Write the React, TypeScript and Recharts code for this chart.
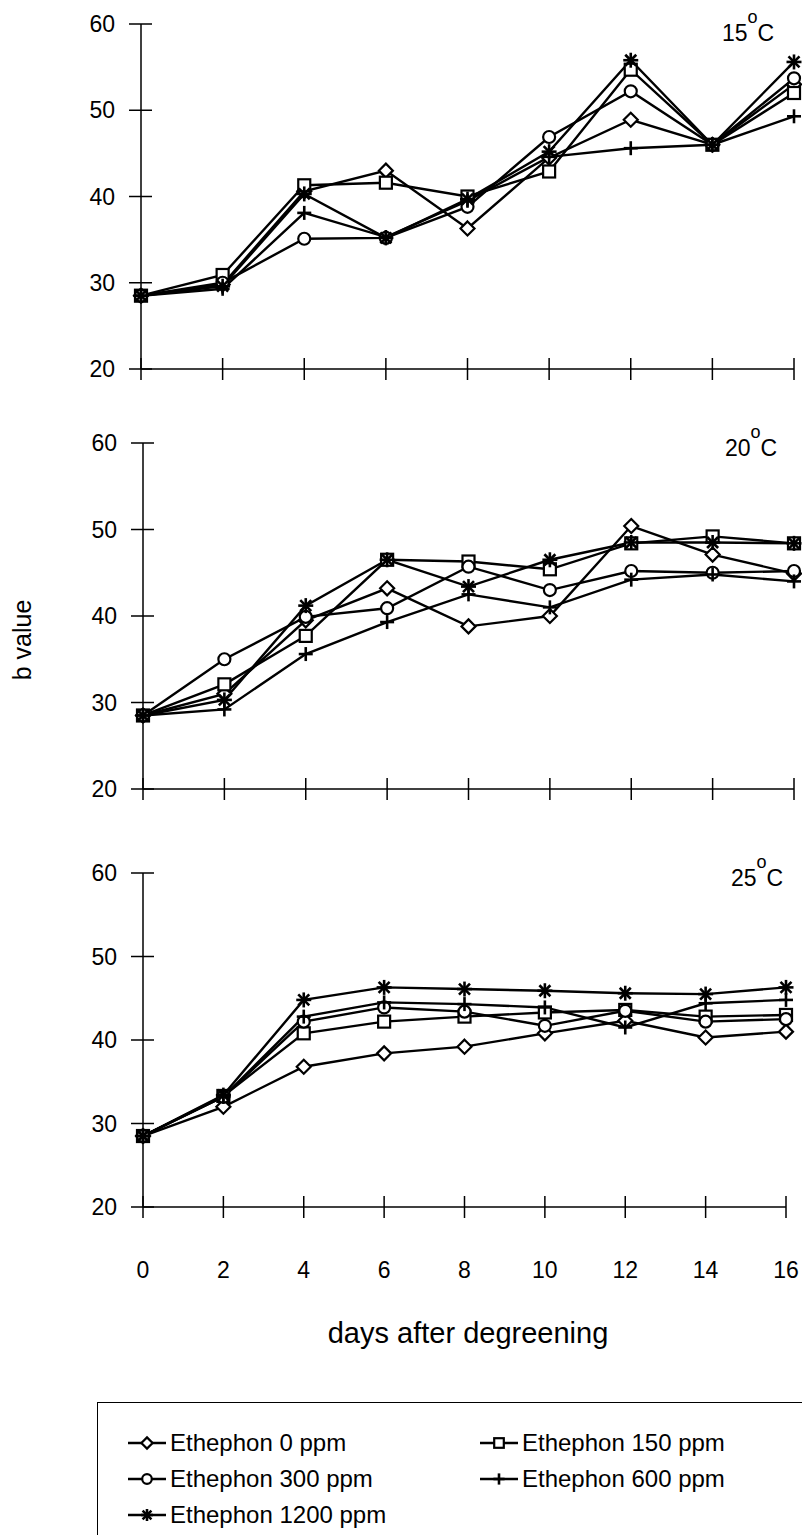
import React from 'react';
import { LineChart, Line, XAxis, YAxis } from 'recharts';

// days after degreening
const days = [0, 2, 4, 6, 8, 10, 12, 14, 16];
const yTicks = [20, 30, 40, 50, 60];

// 15 C
const e0_15 = [28.5, 29.8, 40.6, 43.0, 36.3, 44.5, 48.9, 46.0, 53.0];
const e150_15 = [28.5, 30.9, 41.3, 41.6, 40.0, 42.9, 54.7, 46.0, 52.0];
const e300_15 = [28.5, 30.0, 35.1, 35.2, 38.8, 46.9, 52.2, 46.0, 53.7];
const e600_15 = [28.5, 29.3, 38.1, 35.3, 39.5, 44.6, 45.6, 46.0, 49.3];
const e1200_15 = [28.5, 29.6, 40.3, 35.2, 39.7, 45.2, 55.8, 46.0, 55.6];

// 20 C
const e0_20 = [28.5, 31.0, 39.5, 43.2, 38.8, 40.0, 50.4, 47.1, 44.9];
const e150_20 = [28.5, 32.1, 37.7, 46.5, 46.3, 45.4, 48.4, 49.2, 48.4];
const e300_20 = [28.5, 35.0, 39.9, 40.9, 45.7, 43.0, 45.2, 45.0, 45.2];
const e600_20 = [28.5, 29.2, 35.6, 39.3, 42.5, 41.0, 44.2, 44.8, 44.0];
const e1200_20 = [28.5, 30.3, 41.2, 46.5, 43.4, 46.5, 48.5, 48.5, 48.4];

// 25 C
const e0_25 = [28.5, 32.0, 36.8, 38.4, 39.2, 40.8, 42.3, 40.3, 41.0];
const e150_25 = [28.5, 33.3, 40.8, 42.2, 42.8, 43.3, 43.6, 42.8, 43.0];
const e300_25 = [28.5, 33.2, 42.2, 43.9, 43.4, 41.7, 43.5, 42.2, 42.5];
const e600_25 = [28.5, 33.2, 42.8, 44.5, 44.3, 43.9, 41.5, 44.4, 44.8];
const e1200_25 = [28.5, 33.4, 44.8, 46.3, 46.1, 45.9, 45.6, 45.5, 46.3];

const seriesNames = ['Ethephon 0 ppm', 'Ethephon 150 ppm', 'Ethephon 300 ppm', 'Ethephon 600 ppm', 'Ethephon 1200 ppm'];
const seriesKeys = ['e0', 'e150', 'e300', 'e600', 'e1200'];
const markers = ['diamond', 'square', 'circle', 'plus', 'asterisk'];

const FONT = '"Liberation Sans", Arial, sans-serif';

const buildRows = (cols: number[][]) =>
    days.map((d, i) => {
        const row: any = { day: d };
        seriesKeys.forEach((k, j) => {
            row[k] = cols[j][i];
        });
        return row;
    });

const panels = [
    { label: '15', top: 0, mt: 24, left: 141, right: 794, plotH: 345, labelPos: { left: 722, top: 22 }, rows: buildRows([e0_15, e150_15, e300_15, e600_15, e1200_15]) },
    { label: '20', top: 400, mt: 43, left: 143, right: 794, plotH: 346, labelPos: { left: 725, top: 437 }, rows: buildRows([e0_20, e150_20, e300_20, e600_20, e1200_20]) },
    { label: '25', top: 830, mt: 43, left: 143, right: 786, plotH: 334, labelPos: { left: 731, top: 867 }, rows: buildRows([e0_25, e150_25, e300_25, e600_25, e1200_25]) },
];

// draw one marker shape centred at cx, cy
const Marker = ({ kind, cx, cy, k = 1 }: { kind: string; cx: number; cy: number; k?: number }) => {
    const sw = 2.2;
    if (kind === 'diamond') {
        const s = 7 * k;
        return <path d={`M${cx},${cy - s}L${cx + s},${cy}L${cx},${cy + s}L${cx - s},${cy}Z`} fill="#fff" stroke="#000" strokeWidth={sw} />;
    }
    if (kind === 'square') {
        const s = 6 * k;
        return <rect x={cx - s} y={cy - s} width={2 * s} height={2 * s} fill="#fff" stroke="#000" strokeWidth={sw} />;
    }
    if (kind === 'circle') {
        return <circle cx={cx} cy={cy} r={6 * k} fill="#fff" stroke="#000" strokeWidth={sw} />;
    }
    if (kind === 'plus') {
        const s = 7 * k;
        return (
            <g stroke="#000" strokeWidth={2.6}>
                <line x1={cx - s} x2={cx + s} y1={cy} y2={cy} />
                <line x1={cx} x2={cx} y1={cy - s} y2={cy + s} />
            </g>
        );
    }
    const s = 7.5 * k;
    const d = 5.5 * k;
    return (
        <g stroke="#000" strokeWidth={2.6}>
            <line x1={cx - s} x2={cx + s} y1={cy} y2={cy} />
            <line x1={cx} x2={cx} y1={cy - s} y2={cy + s} />
            <line x1={cx - d} x2={cx + d} y1={cy - d} y2={cy + d} />
            <line x1={cx - d} x2={cx + d} y1={cy + d} y2={cy - d} />
        </g>
    );
};

const XTick = ({ x, y, payload, show }: any) => (
    <g>
        <line x1={x} x2={x} y1={y - 11} y2={y + 11} stroke="#000" strokeWidth={1.5} />
        {show && (
            <text x={x} y={y + 63} textAnchor="middle" dominantBaseline="central" fontSize={23} fontFamily={FONT} fill="#000">
                {payload.value}
            </text>
        )}
    </g>
);

const YTick = ({ x, y, payload }: any) => (
    <g>
        <line x1={x - 12} x2={x + 11} y1={y} y2={y} stroke="#000" strokeWidth={1.5} />
        <text x={x - 26} y={y} textAnchor="end" dominantBaseline="central" fontSize={23} fontFamily={FONT} fill="#000">
            {payload.value}
        </text>
    </g>
);

function Panel({ p, last }: { p: any; last: boolean }) {
    const bottom = last ? 100 : 20;
    const height = p.mt + p.plotH + bottom;
    return (
        <div style={{ position: 'absolute', left: 0, top: p.top }}>
            <LineChart
                width={802}
                height={height}
                data={p.rows}
                margin={{ top: p.mt, right: 802 - p.right, left: p.left - 1, bottom: bottom - 1 }}
            >
                <XAxis
                    type="number"
                    dataKey="day"
                    domain={[0, 16]}
                    ticks={days}
                    interval={0}
                    height={1}
                    tickSize={0}
                    tickMargin={0}
                    tickLine={false}
                    axisLine={{ stroke: '#000', strokeWidth: 1.5 }}
                    tick={(props: any) => <XTick {...props} show={last} />}
                />
                <YAxis
                    type="number"
                    domain={[20, 60]}
                    ticks={yTicks}
                    interval={0}
                    width={1}
                    tickSize={0}
                    tickMargin={0}
                    tickLine={false}
                    axisLine={{ stroke: '#000', strokeWidth: 1.5 }}
                    tick={(props: any) => <YTick {...props} />}
                />
                {seriesKeys.map((k, j) => (
                    <Line
                        key={k}
                        dataKey={k}
                        name={seriesNames[j]}
                        type="linear"
                        stroke="#000"
                        strokeWidth={2.4}
                        isAnimationActive={false}
                        dot={(d: any) => (
                            <g key={`${k}-${d.index}`}>
                                <Marker kind={markers[j]} cx={d.cx} cy={d.cy} />
                            </g>
                        )}
                        activeDot={false}
                    />
                ))}
            </LineChart>
            <div
                style={{
                    position: 'absolute',
                    left: p.labelPos.left,
                    top: p.labelPos.top - p.top,
                    fontSize: 23,
                    lineHeight: 1,
                    fontFamily: FONT,
                    whiteSpace: 'nowrap',
                }}
            >
                {p.label}
                <span style={{ fontSize: 18, position: 'relative', top: -18 }}>o</span>C
            </div>
        </div>
    );
}

function Legend() {
    return (
        <div
            style={{
                position: 'absolute',
                left: 97,
                top: 1402,
                width: 720,
                height: 150,
                border: '1.5px solid #000',
                boxSizing: 'border-box',
            }}
        >
            {seriesNames.map((name, j) => {
                const col = j % 2;
                const row = Math.floor(j / 2);
                const lx = col === 0 ? 30 : 382;
                const cy = 40 + row * 36;
                return (
                    <div key={name} style={{ position: 'absolute', left: lx, top: cy - 14, height: 28, display: 'flex', alignItems: 'center' }}>
                        <svg width={38} height={28}>
                            <line x1={0} x2={38} y1={14} y2={14} stroke="#000" strokeWidth={2.5} />
                            <Marker kind={markers[j]} cx={19} cy={14} k={0.8} />
                        </svg>
                        <span style={{ marginLeft: 4, fontSize: 24, fontFamily: FONT, whiteSpace: 'nowrap' }}>{name}</span>
                    </div>
                );
            })}
        </div>
    );
}

export default function App() {
    return (
        <div style={{ position: 'absolute', left: 0, top: 0, width: 802, height: 1535, background: '#fff', overflow: 'hidden' }}>
            {panels.map((p, i) => (
                <Panel key={p.label} p={p} last={i === panels.length - 1} />
            ))}
            <div
                style={{
                    position: 'absolute',
                    left: 22,
                    top: 640,
                    transform: 'translate(-50%, -50%) rotate(-90deg)',
                    fontSize: 25,
                    fontFamily: FONT,
                    whiteSpace: 'nowrap',
                }}
            >
                b value
            </div>
            <div
                style={{
                    position: 'absolute',
                    left: 468,
                    top: 1333,
                    transform: 'translate(-50%, -50%)',
                    fontSize: 29,
                    fontFamily: FONT,
                    whiteSpace: 'nowrap',
                }}
            >
                days after degreening
            </div>
            <Legend />
        </div>
    );
}
